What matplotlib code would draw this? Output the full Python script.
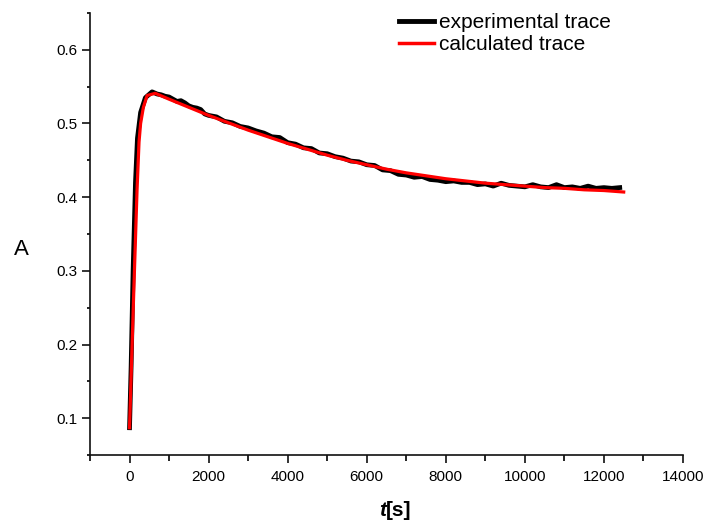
import matplotlib
matplotlib.use("Agg")
import matplotlib.pyplot as plt
from matplotlib.ticker import MultipleLocator

plt.rcParams['font.family'] = ['Liberation Sans', 'DejaVu Sans']

# Measured absorbance trace (time in s, absorbance)
exp_t = [0, 40, 90, 150, 200, 280, 400, 570, 700,
         800, 900, 1000, 1100, 1200, 1300, 1400, 1500, 1600, 1700, 1800, 1900,
         2000, 2200, 2400, 2600, 2800,
         3000, 3200, 3400, 3600, 3800, 4000, 4200, 4400, 4600, 4800,
         5000, 5200, 5400, 5600, 5800, 6000, 6200, 6400, 6600, 6800,
         7000, 7200, 7400, 7600, 7800, 8000, 8200, 8400, 8600, 8800,
         9000, 9200, 9400, 9600, 9800, 10000, 10200, 10400, 10600, 10800,
         11000, 11200, 11400, 11600, 11800, 12000, 12200, 12400]
exp_A = [0.087, 0.17, 0.30, 0.42, 0.48, 0.515, 0.535, 0.543, 0.540,
         0.539, 0.537, 0.536, 0.533, 0.530, 0.531, 0.528, 0.524, 0.522, 0.521, 0.519, 0.513,
         0.511, 0.509, 0.503, 0.501, 0.496,
         0.494, 0.490, 0.487, 0.482, 0.481, 0.474, 0.472, 0.467, 0.466, 0.460,
         0.459, 0.455, 0.453, 0.449, 0.448, 0.444, 0.443, 0.437, 0.436, 0.431,
         0.430, 0.427, 0.428, 0.424, 0.423, 0.421, 0.422, 0.420, 0.420, 0.417,
         0.418, 0.415, 0.419, 0.416, 0.415, 0.414, 0.417, 0.414, 0.413, 0.417,
         0.413, 0.414, 0.412, 0.415, 0.412, 0.413, 0.412, 0.413]

# Fitted kinetic model
calc_t = [0, 100, 190, 240, 280, 350, 445, 650, 1000, 1500, 2000, 2500, 3000,
          3500, 4000, 4500, 5000, 5500, 6000, 6500, 7000, 7500, 8000, 8500,
          9000, 9500, 10000, 10500, 11000, 11500, 12000, 12500]
calc_A = [0.087, 0.26, 0.41, 0.475, 0.50, 0.522, 0.538, 0.541, 0.533, 0.522,
          0.511, 0.501, 0.491, 0.482, 0.473, 0.465, 0.457, 0.450, 0.444, 0.438,
          0.433, 0.429, 0.425, 0.422, 0.419, 0.417, 0.415, 0.413, 0.412, 0.410,
          0.409, 0.407]

x_ticks = [0, 2000, 4000, 6000, 8000, 10000, 12000, 14000]
y_ticks = [0.1, 0.2, 0.3, 0.4, 0.5, 0.6]

fig = plt.figure(figsize=(7.09, 5.25), dpi=100)
ax = fig.add_axes([90 / 709, 70 / 525, 593 / 709, 442 / 525])

ax.plot(exp_t, exp_A, color='black', lw=3.4, solid_joinstyle='round',
        label='experimental trace', zorder=2)
ax.plot(calc_t, calc_A, color='#ff0000', lw=2.3, label='calculated trace', zorder=3)

ax.set_xlim(-1000, 14000)
ax.set_ylim(0.05, 0.65)
ax.set_xticks(x_ticks)
ax.set_yticks(y_ticks)
ax.xaxis.set_minor_locator(MultipleLocator(1000))
ax.yaxis.set_minor_locator(MultipleLocator(0.05))
ax.set_xticklabels([str(v) for v in x_ticks])
ax.set_yticklabels([f'{v:.1f}' for v in y_ticks])

for s in ('top', 'right'):
    ax.spines[s].set_visible(False)
for s in ('left', 'bottom'):
    ax.spines[s].set_linewidth(1.2)
    ax.spines[s].set_color('#111111')

ax.tick_params(axis='both', which='major', direction='out', length=6,
               width=1.2, labelsize=11, pad=3, color='#111111')
ax.tick_params(axis='y', which='minor', direction='out', length=2.5, width=1.2)
ax.tick_params(axis='x', which='minor', direction='out', length=4, width=1.2)
ax.tick_params(axis='x', which='major', pad=5)

ax.set_ylabel('A', fontsize=16, rotation=0, va='center', ha='center')
ax.yaxis.set_label_coords(-0.116, 0.464)

fig.text(386 / 709, 14 / 525, 't', fontsize=15, fontweight='bold',
         fontstyle='italic', ha='right', va='center')
fig.text(386 / 709, 14 / 525, '[s]', fontsize=15, fontweight='bold',
         ha='left', va='center')

leg = ax.legend(loc='upper left', bbox_to_anchor=(399 / 709, 1 - 13 / 525),
                bbox_transform=fig.transFigure, frameon=False, fontsize=15,
                handlelength=1.7, handletextpad=0.2, labelspacing=0.15,
                borderpad=0, borderaxespad=0)
leg.get_lines()[0].set_linewidth(3.5)
leg.get_lines()[1].set_linewidth(2.5)

fig.savefig('out.png', dpi=100)
